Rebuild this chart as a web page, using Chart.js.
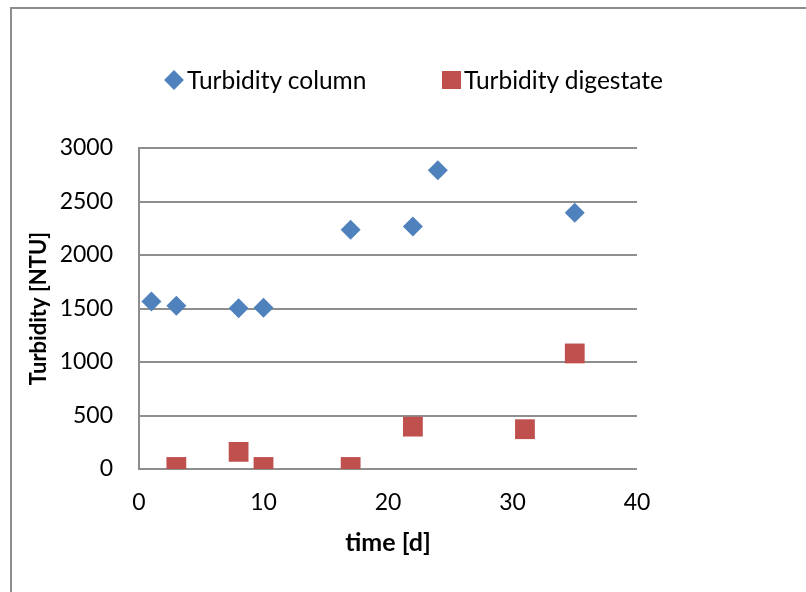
<!DOCTYPE html>
<html>
<head>
<meta charset="utf-8">
<script src="https://cdn.jsdelivr.net/npm/chart.js@4/dist/chart.umd.min.js"></script>
<style>
    html, body { margin: 0; padding: 0; background: #fff; }
    #wrap { position: relative; width: 806px; height: 592px; }
    #grafico { position: absolute; left: 0; top: 0; }
    .leg-txt {
        position: absolute;
        top: 65px;
        height: 30px;
        line-height: 30px;
        font-family: Lato, "DejaVu Sans", sans-serif;
        font-size: 24.5px;
        color: #000;
        white-space: nowrap;
    }
    .leg-mk { position: absolute; }
    #mk1 { left: 167px; top: 73px; width: 14px; height: 14px; background: #4f81bd; transform: rotate(45deg); }
    #mk2 { left: 442px; top: 71px; width: 19px; height: 18px; background: #c0504d; }
    #tx1 { left: 187px; }
    #tx2 { left: 464px; }
</style>
</head>
<body>
<div id="wrap">
    <canvas id="grafico" width="806" height="592"></canvas>
    <div class="leg-mk" id="mk1"></div><div class="leg-txt" id="tx1"></div>
    <div class="leg-mk" id="mk2"></div><div class="leg-txt" id="tx2"></div>
</div>
<script>
// Dados
const timeColumn = [1, 3, 8, 10, 17, 22, 24, 35];
const turbColumn = [1565, 1525, 1503, 1508, 2237, 2266, 2793, 2395];
const timeDigestate = [3, 8, 10, 17, 22, 31, 35];
const turbDigestate = [19, 160, 19, 19, 396, 372, 1080];
const yTicks = [0, 500, 1000, 1500, 2000, 2500, 3000];
const xTicks = [0, 10, 20, 30, 40];
const nomesSeries = ['Turbidity column', 'Turbidity digestate'];

const fonte = 'Lato, "DejaVu Sans", sans-serif';
const corGrade = '#8e8e8e';

function pontos(xs, ys) {
    return xs.map((x, i) => ({ x: x, y: ys[i] }));
}

// Legenda em HTML (texto real)
document.getElementById('tx1').textContent = nomesSeries[0];
document.getElementById('tx2').textContent = nomesSeries[1];

// Borda externa do gráfico
const molduraPlugin = {
    id: 'moldura',
    beforeDraw(chart) {
        const ctx = chart.ctx;
        ctx.save();
        ctx.strokeStyle = '#8c8c8c';
        ctx.lineWidth = 2;
        ctx.beginPath();
        ctx.moveTo(11, 592);
        ctx.lineTo(11, 8);
        ctx.lineTo(806, 8);
        ctx.stroke();
        ctx.restore();
    }
};

const ctx = document.getElementById('grafico').getContext('2d');
new Chart(ctx, {
    type: 'scatter',
    data: {
        datasets: [{
            label: nomesSeries[0],
            data: pontos(timeColumn, turbColumn),
            pointStyle: 'rectRot',
            pointRadius: 10,
            backgroundColor: '#4f81bd',
            borderColor: '#4f81bd',
            borderWidth: 0
        }, {
            label: nomesSeries[1],
            data: pontos(timeDigestate, turbDigestate),
            pointStyle: 'rect',
            pointRadius: 14,
            backgroundColor: '#c0504d',
            borderColor: '#c0504d',
            borderWidth: 0
        }]
    },
    options: {
        responsive: false,
        animation: false,
        layout: { padding: { left: 26, right: 0, top: 148, bottom: 0 } },
        plugins: {
            legend: { display: false },
            tooltip: { enabled: false }
        },
        scales: {
            x: {
                type: 'linear',
                min: 0,
                max: 40,
                afterBuildTicks: (s) => { s.ticks = xTicks.map(v => ({ value: v })); },
                afterFit: (s) => { s.height = 123; },
                grid: { display: false, drawTicks: false },
                border: { display: false },
                ticks: {
                    padding: 20,
                    color: '#000',
                    font: { family: fonte, size: 23 },
                    callback: (v) => String(v)
                },
                title: {
                    display: true,
                    text: 'time [d]',
                    color: '#000',
                    padding: { top: 0, bottom: 34 },
                    font: { family: fonte, size: 25, weight: 'bold' }
                }
            },
            y: {
                type: 'linear',
                position: 'left',
                min: 0,
                max: 3000,
                afterBuildTicks: (s) => { s.ticks = yTicks.map(v => ({ value: v })); },
                afterFit: (s) => { s.width = 113; },
                grid: { color: corGrade, lineWidth: 2, drawTicks: false },
                border: { display: true, color: corGrade, width: 2 },
                ticks: {
                    padding: 26,
                    color: '#000',
                    font: { family: fonte, size: 23 },
                    callback: (v) => String(v)
                },
                title: {
                    display: true,
                    text: 'Turbidity [NTU]',
                    color: '#000',
                    padding: { top: 0, bottom: 0 },
                    font: { family: fonte, size: 22, weight: 'bold' }
                }
            },
            y2: {
                type: 'linear',
                position: 'right',
                afterFit: (s) => { s.width = 169; },
                grid: { display: false, drawTicks: false },
                border: { display: false },
                ticks: { display: false }
            }
        }
    },
    plugins: [molduraPlugin]
});
</script>
</body>
</html>
